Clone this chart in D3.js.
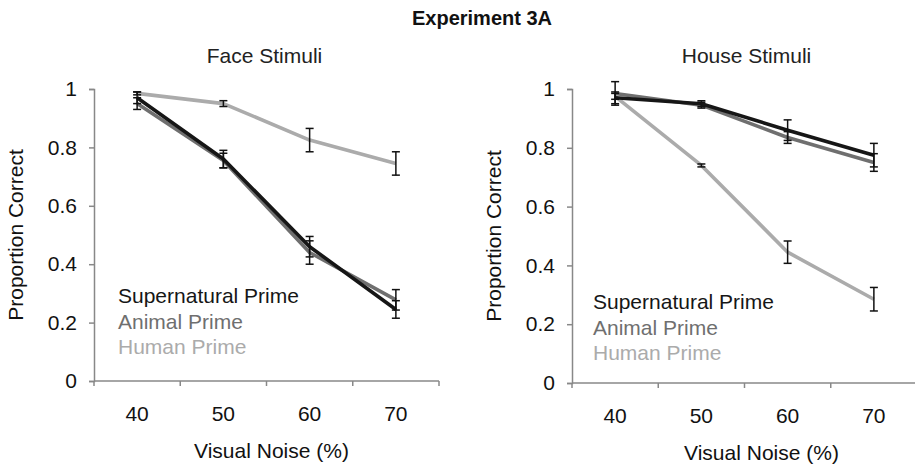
<!DOCTYPE html>
<html>
<head>
<meta charset="utf-8">
<script src="https://cdn.jsdelivr.net/npm/d3@7"></script>
<style>
  body { margin: 0; background: #fff; }
  text { font-family: "Liberation Sans", Arial, sans-serif; }
</style>
</head>
<body>
<div id="vis"></div>
<script>
const FRAME_WIDTH = 915;
const FRAME_HEIGHT = 464;

const noise = ["40", "50", "60", "70"];
const yTicks = [0, 0.2, 0.4, 0.6, 0.8, 1];
const seriesNames = ["Supernatural Prime", "Animal Prime", "Human Prime"];
const seriesColors = ["#161616", "#6f6f6f", "#ababab"];

// face stimuli
const faceSuper = [0.97, 0.76, 0.46, 0.245];
const faceSuperErr = [0.02, 0.03, 0.035, 0.03];
const faceAnimal = [0.95, 0.755, 0.44, 0.278];
const faceAnimalErr = [0.02, 0.025, 0.04, 0.035];
const faceHuman = [0.985, 0.95, 0.825, 0.745];
const faceHumanErr = [0.005, 0.01, 0.04, 0.04];

// house stimuli
const houseSuper = [0.97, 0.95, 0.86, 0.775];
const houseSuperErr = [0.02, 0.01, 0.035, 0.04];
const houseAnimal = [0.985, 0.945, 0.835, 0.75];
const houseAnimalErr = [0.04, 0.01, 0.02, 0.03];
const houseHuman = [0.975, 0.74, 0.445, 0.285];
const houseHumanErr = [0.01, 0.005, 0.038, 0.04];

const PANELS = [
  {title: "Face Stimuli", left: 94, top: 89, bottom: 381, legendX: 118, legendY: 303,
   titleShift: -2, labelShift: 5,
   series: [[faceHuman, faceHumanErr], [faceAnimal, faceAnimalErr], [faceSuper, faceSuperErr]]},
  {title: "House Stimuli", left: 572, top: 89, bottom: 383, legendX: 593, legendY: 309,
   titleShift: 2, labelShift: 17,
   series: [[houseHuman, houseHumanErr], [houseAnimal, houseAnimalErr], [houseSuper, houseSuperErr]]}
];
const VIS_WIDTH = 345;

const SVG = d3.select("#vis")
  .append("svg")
    .attr("width", FRAME_WIDTH)
    .attr("height", FRAME_HEIGHT);

SVG.append("text")
  .attr("x", 482).attr("y", 25)
  .attr("text-anchor", "middle")
  .attr("font-size", "20px")
  .attr("font-weight", "bold")
  .attr("fill", "#111")
  .text("Experiment 3A");

// series drawn light to dark so black sits on top
const drawColors = [seriesColors[2], seriesColors[1], seriesColors[0]];

PANELS.forEach((p) => {
  const X_SCALE = d3.scaleBand().domain(noise).range([p.left, p.left + VIS_WIDTH]);
  const Y_SCALE = d3.scaleLinear().domain([0, 1]).range([p.bottom, p.top]);
  const cx = (i) => X_SCALE(noise[i]) + X_SCALE.bandwidth() / 2;
  const g = SVG.append("g");

  g.append("text")
    .attr("x", p.left + VIS_WIDTH / 2 + p.titleShift).attr("y", 63)
    .attr("text-anchor", "middle")
    .attr("font-size", "21px")
    .attr("fill", "#222")
    .text(p.title);

  // y axis
  const yAxis = g.append("g")
    .attr("transform", "translate(" + p.left + ",0)")
    .call(d3.axisLeft(Y_SCALE).tickValues(yTicks).tickSize(5).tickPadding(12)
      .tickFormat((d) => d3.format("")(+d.toFixed(1))));
  yAxis.selectAll("text").attr("font-size", "21px").attr("fill", "#111")
    .style("font-family", "Liberation Sans, Arial, sans-serif");
  yAxis.select(".domain").attr("stroke", "#888").attr("stroke-width", 1.5);
  yAxis.selectAll(".tick line").attr("stroke", "#888").attr("stroke-width", 1.5);

  // x axis with ticks on band edges
  const xAxis = g.append("g")
    .attr("transform", "translate(0," + p.bottom + ")");
  xAxis.append("line")
    .attr("x1", p.left).attr("x2", p.left + VIS_WIDTH)
    .attr("stroke", "#888").attr("stroke-width", 1.5);
  xAxis.selectAll("line.tk")
    .data(noise.concat(["end"]))
    .enter()
    .append("line")
      .attr("class", "tk")
      .attr("x1", (d, i) => p.left + i * X_SCALE.bandwidth())
      .attr("x2", (d, i) => p.left + i * X_SCALE.bandwidth())
      .attr("y1", 0).attr("y2", 5)
      .attr("stroke", "#888").attr("stroke-width", 1.5);
  xAxis.selectAll("text.tl")
    .data(noise)
    .enter()
    .append("text")
      .attr("x", (d) => X_SCALE(d) + X_SCALE.bandwidth() / 2)
      .attr("y", 40)
      .attr("text-anchor", "middle")
      .attr("font-size", "21px")
      .attr("fill", "#111")
      .text((d) => d);

  g.append("text")
    .attr("x", p.left + VIS_WIDTH / 2 + p.labelShift).attr("y", p.bottom + 77)
    .attr("text-anchor", "middle")
    .attr("font-size", "21px")
    .attr("fill", "#111")
    .text("Visual Noise (%)");

  g.append("text")
    .attr("transform", "translate(" + (p.left - 71) + "," + ((p.top + p.bottom) / 2) + ") rotate(-90)")
    .attr("text-anchor", "middle")
    .attr("font-size", "21px")
    .attr("fill", "#111")
    .text("Proportion Correct");

  // lines
  const line = d3.line().x((d, i) => cx(i)).y((d) => Y_SCALE(d));
  p.series.forEach((s, k) => {
    g.append("path")
      .datum(s[0])
      .attr("d", line)
      .attr("fill", "none")
      .attr("stroke", drawColors[k])
      .attr("stroke-width", 3.6)
      .attr("stroke-linejoin", "round");
  });

  // error bars
  p.series.forEach((s) => {
    const eb = g.selectAll(null)
      .data(s[0].map((v, i) => ({v: v, e: s[1][i], i: i})))
      .enter()
      .append("g");
    eb.append("line")
      .attr("x1", (d) => cx(d.i)).attr("x2", (d) => cx(d.i))
      .attr("y1", (d) => Y_SCALE(d.v + d.e)).attr("y2", (d) => Y_SCALE(d.v - d.e))
      .attr("stroke", "#111").attr("stroke-width", 1.5);
    eb.append("line")
      .attr("x1", (d) => cx(d.i) - 4).attr("x2", (d) => cx(d.i) + 4)
      .attr("y1", (d) => Y_SCALE(d.v + d.e)).attr("y2", (d) => Y_SCALE(d.v + d.e))
      .attr("stroke", "#111").attr("stroke-width", 1.5);
    eb.append("line")
      .attr("x1", (d) => cx(d.i) - 4).attr("x2", (d) => cx(d.i) + 4)
      .attr("y1", (d) => Y_SCALE(d.v - d.e)).attr("y2", (d) => Y_SCALE(d.v - d.e))
      .attr("stroke", "#111").attr("stroke-width", 1.5);
  });

  // legend
  g.selectAll("text.lg")
    .data(seriesNames)
    .enter()
    .append("text")
      .attr("x", p.legendX)
      .attr("y", (d, i) => p.legendY + i * 25.5)
      .attr("font-size", "21px")
      .attr("fill", (d, i) => seriesColors[i])
      .text((d) => d);
});
</script>
</body>
</html>
